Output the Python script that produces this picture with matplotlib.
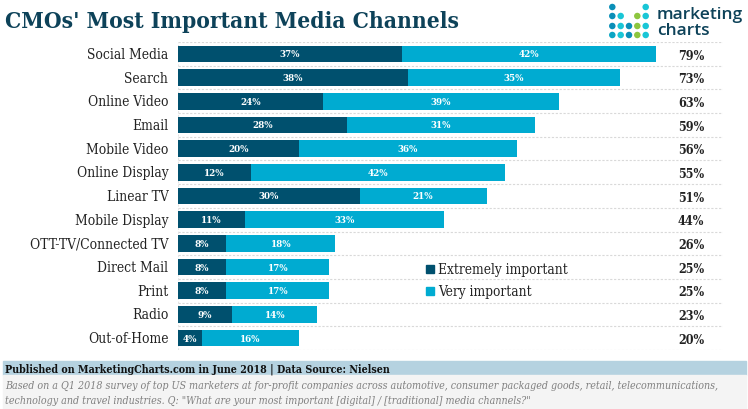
import matplotlib
matplotlib.use("Agg")
import matplotlib.pyplot as plt
from matplotlib.patches import Rectangle

categories = ["Social Media", "Search", "Online Video", "Email", "Mobile Video", "Online Display",
              "Linear TV", "Mobile Display", "OTT-TV/Connected TV", "Direct Mail", "Print", "Radio", "Out-of-Home"]
extremely = [37, 38, 24, 28, 20, 12, 30, 11, 8, 8, 8, 9, 4]
very = [42, 35, 39, 31, 36, 42, 21, 33, 18, 17, 17, 14, 16]
totals = [79, 73, 63, 59, 56, 55, 51, 44, 26, 25, 25, 23, 20]

W, H = 748, 410
DARK, LIGHT = "#00506e", "#00abd1"
plt.rcParams["font.family"] = ["DejaVu Serif"]
fig = plt.figure(figsize=(W/100, H/100), dpi=100, facecolor="white")

def fx(x): return x/W
def fy(y): return 1-y/H

ax = fig.add_axes([fx(178), fy(351), (723-178)/W, 308/H])
ax.set_xlim(0, 545/6.05)
ax.set_ylim(12.5, -0.5)
pos = list(range(len(categories)))
ax.barh(pos, extremely, height=0.70, color=DARK, zorder=3)
ax.barh(pos, very, left=extremely, height=0.70, color=LIGHT, zorder=3)
for s in ax.spines.values():
    s.set_visible(False)
ax.set_xticks([])
ax.set_yticks(pos)
ax.set_yticklabels(categories, fontsize=9.9, stretch="condensed", color="#222222", va="center")
ax.tick_params(axis="y", length=0, pad=7)
for g in [i-0.5 for i in range(14)]:
    ax.axhline(g, color="#d9d9d9", lw=0.8, ls=(0, (2, 1.5)), zorder=1)
ax.axvline(0, color="#e4e4e4", lw=0.8, ls=(0, (2, 1.5)), zorder=1)
for i, (e, v, t) in enumerate(zip(extremely, very, totals)):
    ax.text(e/2, i, f"{e}%", color="white", ha="center", va="center", fontsize=7, fontweight="bold", stretch="condensed", zorder=4)
    ax.text(e+v/2, i, f"{v}%", color="white", ha="center", va="center", fontsize=7, fontweight="bold", stretch="condensed", zorder=4)
    fig.text(fx(691), fy(56+i*23.69), f"{t}%", ha="center", va="center", fontsize=9, fontweight="bold",
             stretch="condensed", color="#222222")

# legend
for y, c, label in [(270, DARK, "Extremely important"), (292, LIGHT, "Very important")]:
    fig.add_artist(Rectangle((fx(426), fy(y+4)), 8/W, 8/H, transform=fig.transFigure, color=c))
    fig.text(fx(438), fy(y), label, fontsize=9.8, va="center", color="#222222", stretch="condensed")

# title
fig.text(fx(5), fy(22), "CMOs' Most Important Media Channels", fontsize=16.3, fontweight="bold",
         color="#0d4259", va="center", stretch="condensed")

# logo
col_x = [612.3, 620.7, 629, 637.3, 645.7]
row_y = [8, 17, 27, 36]
logo = [(0,0,"#0a8fb8"),(0,4,"#19c6d6"),
        (1,0,"#0a8fb8"),(1,1,"#19c6d6"),(1,3,"#8dc63f"),(1,4,"#19c6d6"),
        (2,0,"#0a8fb8"),(2,1,"#19c6d6"),(2,2,"#0a8fb8"),(2,3,"#8dc63f"),(2,4,"#19c6d6"),
        (3,0,"#0aa5c4"),(3,1,"#19c6d6"),(3,2,"#0a8fb8"),(3,3,"#8dc63f"),(3,4,"#19c6d6")]
ovl = fig.add_axes([0, 0, 1, 1], facecolor="none")
ovl.set_xlim(0, 1); ovl.set_ylim(0, 1); ovl.axis("off")
ovl.scatter([fx(col_x[c]) for r, c, _ in logo], [fy(row_y[r]) for r, c, _ in logo],
            s=22, c=[k for _, _, k in logo], linewidths=0)
fig.text(fx(657), fy(15), "marketing", family="Open Sans", fontsize=12.5, fontweight="semibold", color="#0d4259", va="center")
fig.text(fx(657), fy(31), "charts", family="Open Sans", fontsize=12.5, fontweight="semibold", color="#0d4259", va="center")

# footer
fig.add_artist(Rectangle((fx(3), fy(376)), 743/W, 14/H, transform=fig.transFigure, color="#b5d2e0", zorder=0))
fig.add_artist(Rectangle((fx(3), fy(410)), 743/W, 34/H, transform=fig.transFigure, color="#f4f4f4", zorder=0))
fig.text(fx(5), fy(369.5), "Published on MarketingCharts.com in June 2018 | Data Source: Nielsen", fontsize=7.65, fontweight="bold",
         va="center", color="#111111", stretch="condensed")
fig.text(fx(5), fy(386), "Based on a Q1 2018 survey of top US marketers at for-profit companies across automotive, consumer packaged goods, retail, telecommunications,",
         fontsize=7.65, style="italic", va="center", color="#808080", stretch="condensed")
fig.text(fx(5), fy(401), "technology and travel industries. Q: \"What are your most important [digital] / [traditional] media channels?\"",
         fontsize=7.65, style="italic", va="center", color="#808080", stretch="condensed")

fig.savefig("out.png", dpi=100)
